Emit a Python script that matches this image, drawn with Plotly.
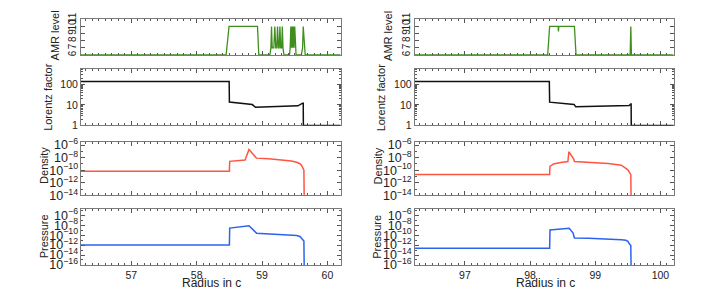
import plotly.graph_objects as go

# ---------------- data ----------------
# Left column (t1)
amr_x_L = [56.23, 58.45, 58.495, 58.93, 58.95, 59.12, 59.135, 59.145, 59.155, 59.18, 59.195, 59.21, 59.225, 59.237, 59.25,
           59.262, 59.273, 59.285, 59.30, 59.31, 59.32, 59.335, 59.42, 59.43, 59.44, 59.45, 59.46, 59.47, 59.48, 59.49,
           59.50, 59.51, 59.52, 59.60, 59.62, 59.63, 59.645, 59.66, 60.2]
amr_y_L = [6, 6, 10, 10, 6, 6, 7, 10, 7, 7, 10, 7, 7, 10, 7,
           7, 10, 7, 7, 10, 7, 6, 6, 7, 10, 7, 10, 7, 10, 7,
           10, 7, 6, 6, 7, 10, 7, 6, 6]

lor_x_L = [56.23, 58.497, 58.50, 58.67, 58.85, 58.90, 59.3, 59.55, 59.62, 59.63, 59.632, 60.2]
lor_y_L = [137, 137, 13.7, 11.5, 10.3, 7.6, 8.2, 9.0, 12.0, 12.0, 1.0, 1.0]

den_x_L = [56.23, 58.50, 58.505, 58.62, 58.74, 58.80, 58.915, 59.1, 59.3, 59.45, 59.53, 59.58, 59.605, 59.625, 59.64, 59.645]
den_y_L = [7.0e-11, 7.0e-11, 2.6e-9, 3.4e-9, 4.2e-9, 2.0e-7, 8.5e-9, 6.5e-9, 4.5e-9, 3.0e-9, 1.9e-9, 1.1e-9, 5.8e-10, 2.5e-10, 1.0e-10, 1e-15]

pre_x_L = [56.23, 58.50, 58.505, 58.65, 58.80, 58.915, 59.1, 59.3, 59.45, 59.53, 59.58, 59.605, 59.625, 59.64, 59.645]
pre_y_L = [1.0e-12, 1.0e-12, 2.6e-9, 4.5e-9, 7.4e-9, 2.5e-10, 1.8e-10, 1.4e-10, 1.05e-10, 8.5e-11, 5.5e-11, 2.7e-11, 1.3e-11, 6.3e-12, 1e-17]

# Right column (t2)
amr_x_R = [96.23, 98.27, 98.30, 98.43, 98.435, 98.44, 98.68, 98.705, 99.535, 99.545, 99.555, 100.2]
amr_y_R = [6, 6, 10, 10, 9.3, 10, 10, 6, 6, 10, 6, 6]

lor_x_R = [96.23, 98.295, 98.30, 98.50, 98.66, 98.675, 98.70, 99.1, 99.52, 99.545, 99.55, 99.552, 100.2]
lor_y_R = [135, 135, 13.5, 12.0, 11.0, 10.5, 8.0, 8.5, 9.3, 11.0, 11.0, 1.0, 1.0]

den_x_R = [96.23, 98.30, 98.305, 98.36, 98.47, 98.58, 98.595, 98.67, 98.68, 98.9, 99.2, 99.4, 99.47, 99.50, 99.52, 99.545, 99.55]
den_y_R = [2.1e-11, 2.1e-11, 4.1e-10, 1.0e-9, 1.7e-9, 2.4e-9, 8.9e-8, 5.9e-9, 2.4e-9, 1.8e-9, 1.2e-9, 6.5e-10, 2.2e-10, 1.2e-10, 5.5e-11, 2.0e-11, 1e-15]

pre_x_R = [96.23, 98.30, 98.305, 98.45, 98.60, 98.66, 98.68, 98.9, 99.2, 99.4, 99.47, 99.50, 99.52, 99.545, 99.55]
pre_y_R = [2.2e-13, 2.2e-13, 1.07e-9, 1.7e-9, 2.3e-9, 2.5e-10, 2.7e-11, 2.3e-11, 1.7e-11, 1.2e-11, 9.1e-12, 5.5e-12, 2.1e-12, 8.0e-13, 1e-17]

x_ticks_L = [57, 58, 59, 60]
x_ticks_R = [97, 98, 99, 100]
x_range_L = [56.23, 60.2]
x_range_R = [96.23, 100.2]

amr_ticks = [6, 7, 8, 9, 10, 11]
x_title = "Radius in c"
y_titles = ["AMR level", "Lorentz factor", "Density", "Pressure"]

# ---------------- layout helpers ----------------
W, H = 702, 293
FONT = "Liberation Sans, Arial, Helvetica, sans-serif"

def px_x(a, b):
    return [a / W, b / W]

def px_y(top, bottom):
    return [1 - bottom / H, 1 - top / H]

col_dom = [px_x(73, 332.5), px_x(406.7, 665.5)]
row_dom = [px_y(4.5, 42), px_y(56.5, 116), px_y(133, 189.5), px_y(203.5, 262.5)]
# title centres in pixels (x for each column, y for each row)
ytitle_px_x = [[46.5, 40.5, 36, 35.5], [380, 373, 369.5, 369]]
ytitle_px_y = [22, 86.5, 158.5, 233]
xtitle_px = [(203, 281.5), (537, 281.5)]

GREEN = "#3f8f1f"
RED = "#ff5540"
BLUE = "#2b63f0"
BLACK = "#111111"

fig = go.Figure()

cols = [
    dict(amr=(amr_x_L, amr_y_L), lor=(lor_x_L, lor_y_L), den=(den_x_L, den_y_L), pre=(pre_x_L, pre_y_L),
         xr=x_range_L, xt=x_ticks_L),
    dict(amr=(amr_x_R, amr_y_R), lor=(lor_x_R, lor_y_R), den=(den_x_R, den_y_R), pre=(pre_x_R, pre_y_R),
         xr=x_range_R, xt=x_ticks_R),
]

rows = [("amr", GREEN), ("lor", BLACK), ("den", RED), ("pre", BLUE)]

BOX = "#7a7a7a"
TICK = "#555555"
TXT = "#222222"
layout = dict(
    width=W, height=H,
    margin=dict(l=0, r=0, t=0, b=0),
    paper_bgcolor="white", plot_bgcolor="white",
    showlegend=False,
    font=dict(family=FONT, size=10, color=TXT),
)
annotations = []

n = 0
for ci, c in enumerate(cols):
    for ri, (key, color) in enumerate(rows):
        n += 1
        xa = "x" if n == 1 else f"x{n}"
        ya = "y" if n == 1 else f"y{n}"
        xs, ys = c[key]
        fig.add_trace(go.Scatter(x=xs, y=ys, mode="lines", xaxis=xa, yaxis=ya,
                                 line=dict(color=color, width=1.3 if key == "amr" else 1.5),
                                 hoverinfo="skip"))
        xkey = "xaxis" if n == 1 else f"xaxis{n}"
        ykey = "yaxis" if n == 1 else f"yaxis{n}"
        bottom = (ri == 3)
        layout[xkey] = dict(
            domain=col_dom[ci], anchor=ya, range=c["xr"],
            showline=True, linecolor=BOX, linewidth=1.3 if key == "amr" else 1, mirror="allticks",
            ticks="inside", ticklen=4, tickcolor=TICK, tickwidth=1,
            tickvals=c["xt"], showticklabels=bottom,
            tickfont=dict(size=10.5, color=TXT),
            minor=dict(ticks="inside", ticklen=2, dtick=0.1, tickcolor=TICK, tick0=0),
            showgrid=False, zeroline=False,
            layer="above traces" if key == "amr" else "below traces",
        )
        yd = dict(
            domain=row_dom[ri], anchor=xa,
            showline=True, linecolor=BOX, linewidth=1, mirror="allticks",
            ticks="inside", ticklen=4, tickcolor=TICK, tickwidth=1,
            showgrid=False, zeroline=False,
            tickfont=dict(size=10.5, color=TXT),
        )
        if key == "amr":
            yd.update(range=[6, 11], tickvals=amr_ticks, tickangle=-90,
                      tickfont=dict(size=10, color=TXT), layer="above traces")
        elif key == "lor":
            yd.update(type="log", range=[0, 2.75], tickvals=[1, 10, 100], ticktext=["1", "10", "100"],
                      minor=dict(ticks="inside", ticklen=2, tickcolor=TICK, dtick="D1"))
        elif key == "den":
            yd.update(type="log", range=[-14, -5.45], dtick=2, tick0=0, exponentformat="power",
                      tickfont=dict(size=10, color=TXT),
                      minor=dict(ticks="inside", ticklen=2, tickcolor=TICK, dtick=1))
        else:
            yd.update(type="log", range=[-16, -4.7], dtick=2, tick0=0, exponentformat="power",
                      tickfont=dict(size=10, color=TXT),
                      minor=dict(ticks="inside", ticklen=2, tickcolor=TICK, dtick=1))
        layout[ykey] = yd

        annotations.append(dict(
            text=y_titles[ri], xref="paper", yref="paper",
            x=ytitle_px_x[ci][ri] / W, y=1 - ytitle_px_y[ri] / H,
            xanchor="center", yanchor="middle", textangle=-90, showarrow=False,
            font=dict(size=11, color=TXT, family=FONT),
        ))
    annotations.append(dict(
        text=x_title, xref="paper", yref="paper",
        x=xtitle_px[ci][0] / W, y=1 - xtitle_px[ci][1] / H,
        xanchor="center", yanchor="middle", showarrow=False,
        font=dict(size=12, color=TXT, family=FONT),
    ))

layout["annotations"] = annotations
fig.update_layout(**layout)
fig.write_html("out.html")
